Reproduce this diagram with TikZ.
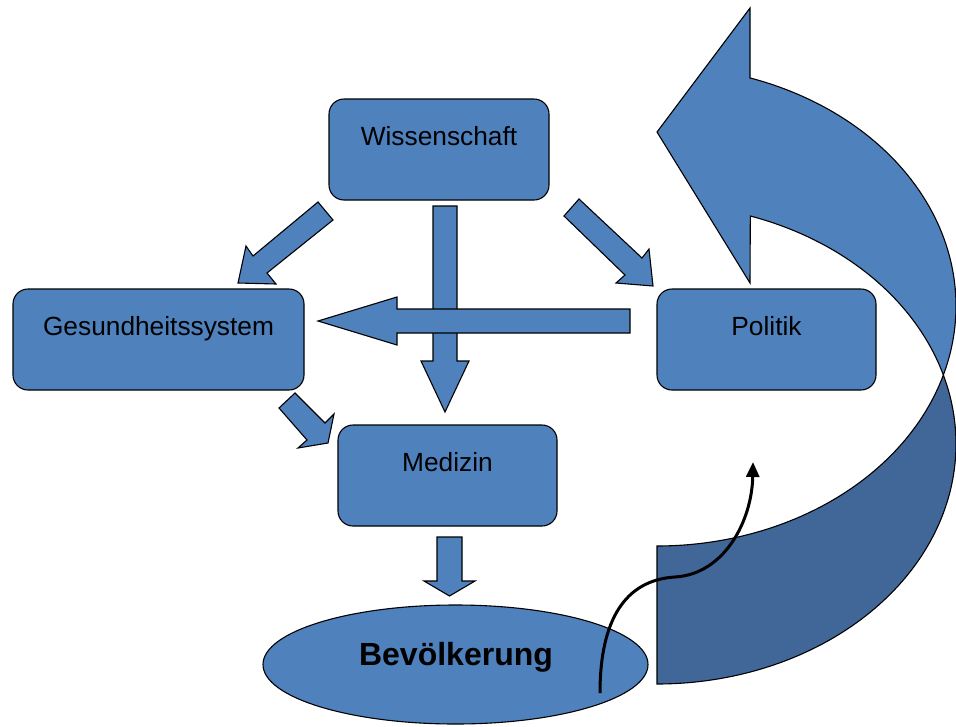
\documentclass[tikz,border=0pt]{standalone}
\usepackage{fontspec}
\setmainfont{Liberation Sans}
\usetikzlibrary{shapes.geometric,arrows.meta}
\definecolor{blu}{RGB}{79,129,189}
\definecolor{blud}{RGB}{64,103,152}
\begin{document}
\begin{tikzpicture}[x=1pt,y=-1pt,
  box/.style={draw=black, line width=1.1pt, fill=blu, rounded corners=15pt,
    inner sep=0pt, text height=46pt, text depth=55pt,
    font=\fontsize{26.3}{30}\selectfont, anchor=base},
  blk/.style={draw=black, line width=1.1pt, fill=blu, line join=miter},
  bigdark/.style={draw=black, line width=1.1pt, fill=blud, line join=miter},
]
\useasboundingbox (0,0) rectangle (956,726);

% big curved arrow
\filldraw[blk] (750,78)
  -- plot[domain=-71.81:16.71, samples=90] ({657+299*cos(\x)},{306+240*sin(\x)})
  -- plot[domain=-16.71:-71.81, samples=90] ({657+299*cos(\x)},{444+240*sin(\x)})
  -- (750,283) -- (657,132) -- (750,8) -- cycle;
\filldraw[bigdark] (657,684)
  -- plot[domain=90:-16.71, samples=90] ({657+299*cos(\x)},{444+240*sin(\x)})
  -- plot[domain=16.71:90, samples=90] ({657+299*cos(\x)},{306+240*sin(\x)})
  -- cycle;

% boxes
\node[box, minimum width=220pt] (wiss) at (439,145) {Wissenschaft};
\node[box, minimum width=291pt] (ges) at (158.5,335) {Gesundheitssystem};
\node[box, minimum width=219pt] (pol) at (766.5,335) {Politik};
\node[box, minimum width=219pt] (med) at (447.5,471) {Medizin};
\node[draw=black, line width=1.1pt, fill=blu, ellipse, inner sep=0pt,
  minimum width=385pt, minimum height=119pt] (bev) at (455.5,664.5) {};
\node[anchor=base, inner sep=0pt, font=\fontsize{32}{36}\selectfont\bfseries]
  (bevt) at (456,665) {Bevölkerung};

% block arrows
\filldraw[blk] (318,202) -- (333,220) -- (267,273) -- (276,284) -- (238,283)
  -- (246,246) -- (253,256) -- cycle;
\filldraw[blk] (579,199) -- (642,258) -- (649,249) -- (653,286) -- (616,283)
  -- (625,275) -- (564,216) -- cycle;
\filldraw[blk] (295,393) -- (325,423) -- (334,414) -- (328,443) -- (298,448)
  -- (307,440) -- (279,408) -- cycle;
\filldraw[blk] (433,206) -- (457,206) -- (457,361) -- (469,361) -- (445,412)
  -- (421,361) -- (433,361) -- cycle;
\filldraw[blk] (630,309) -- (630,333) -- (397,333) -- (397,345) -- (318,321)
  -- (397,297) -- (397,309) -- cycle;
\filldraw[blk] (437,537) -- (462,537) -- (462,581) -- (475,581) -- (449.5,596)
  -- (424,581) -- (437,581) -- cycle;

% thin curved arrow
\coordinate (cs) at (600,693);
\coordinate (ce) at (753,462);
\draw[line width=3pt, -{Triangle[length=15pt,width=13pt]}]
  (cs) .. controls (600,620) and (625,580) .. (675,577)
       .. controls (725,574) and (752,520) .. (ce);
\end{tikzpicture}
\end{document}
